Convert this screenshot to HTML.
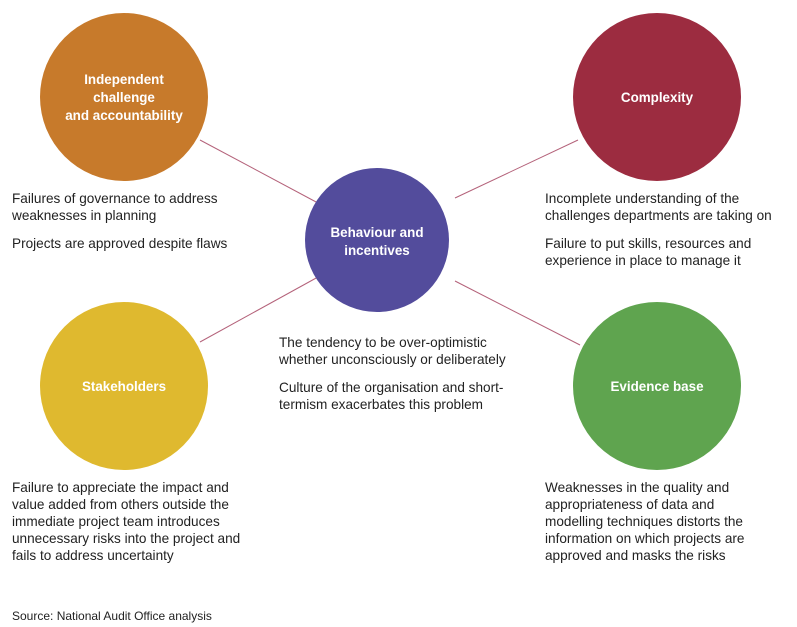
<!DOCTYPE html>
<html><head><meta charset="utf-8"><style>
html,body{margin:0;padding:0;background:#fff;}
svg{display:block;font-family:"Liberation Sans",Arial,sans-serif;}
.t{font-size:13.6px;fill:#222;}
.w{font-size:13.4px;fill:#fff;font-weight:bold;}
</style></head><body>
<svg width="797" height="627" viewBox="0 0 797 627">
<g stroke="#b4627a" stroke-width="1">
<line x1="200" y1="140" x2="318" y2="203"/>
<line x1="578" y1="140" x2="455" y2="198"/>
<line x1="318" y1="277" x2="200" y2="342"/>
<line x1="455" y1="281" x2="580" y2="345"/>
</g>
<circle cx="124" cy="97" r="84" fill="#c77a2b"/>
<circle cx="657" cy="97" r="84" fill="#9c2c40"/>
<circle cx="377" cy="240" r="72" fill="#534c9c"/>
<circle cx="124" cy="386" r="84" fill="#dfb92f"/>
<circle cx="657" cy="386" r="84" fill="#5fa44f"/>
<g text-anchor="middle">
<text x="124" y="84" class="w">Independent</text>
<text x="124" y="102" class="w">challenge</text>
<text x="124" y="120" class="w">and accountability</text>
<text x="657" y="102" class="w">Complexity</text>
<text x="377" y="237" class="w">Behaviour and</text>
<text x="377" y="255" class="w">incentives</text>
<text x="124" y="391" class="w">Stakeholders</text>
<text x="657" y="391" class="w">Evidence base</text>
</g>
<g class="t">
<text x="12" y="203">Failures of governance to address</text>
<text x="12" y="220">weaknesses in planning</text>
<text x="12" y="248">Projects are approved despite flaws</text>
<text x="545" y="203">Incomplete understanding of the</text>
<text x="545" y="220">challenges departments are taking on</text>
<text x="545" y="248">Failure to put skills, resources and</text>
<text x="545" y="265">experience in place to manage it</text>
<text x="279" y="347">The tendency to be over-optimistic</text>
<text x="279" y="364">whether unconsciously or deliberately</text>
<text x="279" y="392">Culture of the organisation and short-</text>
<text x="279" y="409">termism exacerbates this problem</text>
<text x="12" y="492">Failure to appreciate the impact and</text>
<text x="12" y="509">value added from others outside the</text>
<text x="12" y="526">immediate project team introduces</text>
<text x="12" y="543">unnecessary risks into the project and</text>
<text x="12" y="560">fails to address uncertainty</text>
<text x="545" y="492">Weaknesses in the quality and</text>
<text x="545" y="509">appropriateness of data and</text>
<text x="545" y="526">modelling techniques distorts the</text>
<text x="545" y="543">information on which projects are</text>
<text x="545" y="560">approved and masks the risks</text>
<text x="12" y="620" style="font-size:12px">Source: National Audit Office analysis</text>
</g>
</svg>
</body></html>
